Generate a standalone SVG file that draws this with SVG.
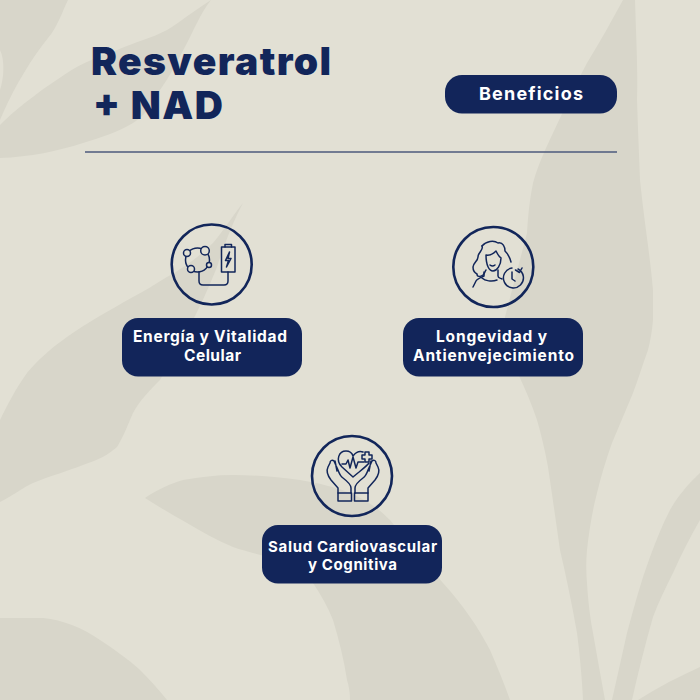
<svg xmlns="http://www.w3.org/2000/svg" width="700" height="700" viewBox="0 0 700 700">
<style>
.leaf{fill:#d8d6ca}
.gap{fill:#e2e0d4}
.ring{fill:none;stroke:#12265a;stroke-width:2.6}
.ic{fill:none;stroke:#12265a;stroke-width:1.5;stroke-linecap:round;stroke-linejoin:round}
.pill{fill:#12255a}
.lab{font-family:"Inter","Liberation Sans",sans-serif;font-weight:700;font-size:15.5px;fill:#fff;text-anchor:middle}
.ttl{font-family:"Inter","Liberation Sans",sans-serif;font-weight:900;font-size:39px;fill:#12265a}
</style>
<rect width="700" height="700" fill="#e2e0d4"/>
<g id="background">
<path class="leaf" d="M0 0H68C62 12 58 26 48 38C32 58 16 84 3 113L0 120Z"/>
<path class="gap" d="M0 50C5 60 4 78 0 90Z"/>
<path class="leaf" d="M0 125L3 122C22 104 44 88 67 73C84 62 100 56 117 50C135 42 152 38 167 30C180 22 192 12 211 0C200 14 194 30 187 43C178 60 170 76 160 90C152 106 144 116 133 123C118 132 100 138 83 143C58 151 30 157 0 158Z"/>
<path class="leaf" d="M243 203C234 214 224 230 213 243C198 258 183 268 167 277C155 284 145 291 133 297C110 310 88 322 67 337C50 349 38 360 27 373C16 388 8 404 0 420V502C12 496 22 488 33 483C50 476 68 471 83 465C98 460 108 455 117 447C124 436 128 424 133 413C140 400 150 390 160 380C180 345 200 310 217 267C224 245 233 222 243 203Z"/>
<path class="leaf" d="M623 0H635C636 35 638 70 637 100C638 130 639 155 640 180C644 220 650 255 653 290V320C652 332 650 342 648 350C642 366 638 380 633 393C626 410 619 426 612 443C606 460 601 476 597 493C592 512 589 532 587 550C586 562 586 572 587 583C588 600 590 618 593 633C597 656 601 678 605 700H583C582 680 580 656 577 633C572 604 566 576 560 550C556 522 552 494 548 467C545 450 541 434 537 420C532 405 526 391 520 378C512 360 505 342 505 317C512 290 520 260 527 233C528 214 530 198 533 183C538 165 545 150 553 133C564 110 575 85 587 63C600 42 612 20 623 0Z"/>
<path class="leaf" d="M700 473C688 484 678 496 670 510C662 525 656 541 650 557C641 581 634 607 627 633C622 655 617 678 612 700H632C638 673 645 645 653 617C659 601 666 587 673 573C681 555 690 537 700 520Z"/>
<path class="leaf" d="M700 667C680 676 658 687 638 700H700Z"/>
<path class="leaf" d="M145 498C158 489 170 484 183 480C200 477 216 475 233 475C256 475 278 477 300 480C318 483 335 487 350 493C365 499 379 509 390 520C410 545 428 565 443 583C453 594 462 605 470 617C478 628 484 639 490 650C497 666 504 683 510 700H350C350 693 349 686 347 680C344 660 339 640 333 620C328 607 321 595 313 583C300 572 285 563 267 557C255 553 244 551 233 547C216 540 201 531 187 523C172 515 158 506 145 498Z"/>
<path class="leaf" d="M0 618H43C63 620 83 628 100 640C115 650 128 659 140 670C150 680 159 690 167 700H0Z"/>
</g>
<g id="header">
<text class="ttl" x="91" y="75" textLength="240" lengthAdjust="spacing">Resveratrol</text>
<text class="ttl" x="93" y="119" textLength="130" lengthAdjust="spacing">+ NAD</text>
<line x1="85" y1="152" x2="617" y2="152" stroke="#4d5a7c" stroke-width="1.6"/>
</g>
<g id="badge">
<rect class="pill" x="445" y="75" width="172" height="38.500" rx="17"/>
<text class="lab" x="531" y="100" style="font-size:18px" textLength="104" lengthAdjust="spacing">Beneficios</text>
</g>
<g id="node-energia">
<circle class="ring" cx="211.700" cy="264.500" r="40"/>
<g class="ic">
<circle cx="197.500" cy="260" r="12"/>
<circle class="gap" cx="187" cy="253" r="3.500"/><circle class="gap" cx="205" cy="250.700" r="4.300"/><circle class="gap" cx="191" cy="269" r="3.500"/><circle class="gap" cx="209" cy="265" r="2.500"/>
<rect x="221.500" y="247" width="13.500" height="25"/><path d="M225 247V244.500H231.500V247"/>
<path d="M229.500 252L225.500 260.500H228.500L226.500 267L231 258.500H228Z"/>
<path d="M199 272V281Q199 285 203 285H224Q228 285 228 281V272"/>
</g>
</g>
<g id="label-energia">
<rect class="pill" x="122" y="318" width="180" height="58.500" rx="16"/>
<text class="lab" x="210" y="342" textLength="154" lengthAdjust="spacing">Energía y Vitalidad</text>
<text class="lab" x="212.500" y="361" textLength="57" lengthAdjust="spacing">Celular</text>
</g>
<g id="node-longevidad">
<circle class="ring" cx="493.300" cy="267" r="40"/>
<g class="ic">
<path d="M482 246C486 241 494 240 498 243C503 242 505 247 505 251C508 254 510 258 511 262"/>
<path d="M482 246C484 250 478 252 478 257C478 261 473 263 473 267C473 271 475 273 477 274C477 277 480 277 483 275C485 273 485 271 486 270"/>
<path d="M486 255C491 256 494 253 496 251C498 255 499 257 501 258C501 265 497 271 493 271C489 271 486 265 486 255Z"/>
<path d="M490 265Q492.500 267 495 265M484 272V276C480 278 477 279 476 281L473 287M498 270V276C498 278 500 278 502 279M482 278C485 281 492 282 497 280"/>
<path d="M518 269A10 10 0 1 1 512 268M512 272V279L515 281M522 268L519.500 272.500L515.500 270"/>
</g>
</g>
<g id="label-longevidad">
<rect class="pill" x="403" y="318" width="180" height="58.500" rx="16"/>
<text class="lab" x="491.500" y="342" textLength="111" lengthAdjust="spacing">Longevidad y</text>
<text class="lab" x="493.500" y="361" textLength="161" lengthAdjust="spacing">Antienvejecimiento</text>
</g>
<g id="node-salud">
<circle class="ring" cx="352" cy="476" r="40"/>
<g class="ic">
<path d="M353 477L342 467C335 460 339 451 346 451C349 451 352 453 353 456C356 452 360 451 363 452M369 463C367 466 360 471 353 477"/>
<path d="M342 464H346L348 460L350 468L353 457L356 468L358 462H364"/>
<path d="M362 455H365V452H369V455H372V459H369V462H365V459H362Z"/>
<path d="M351 493V488C351 484 347 481 343 478C340 476 339 473 338 470L334 461C332 459 330 461 330 463L328 467C326 471 328 476 331 480L338 488V493M335 461L337 471"/>
<path d="M355 493V488C355 484 359 481 363 478C366 476 367 473 368 470L372 461C374 459 376 461 376 463L378 467C380 471 378 476 375 480L368 488V493M371 461L369 471"/>
<rect x="338" y="493" width="13.500" height="8"/><rect x="354.500" y="493" width="13.500" height="8"/>
</g>
</g>
<g id="label-salud">
<rect class="pill" x="262" y="525" width="180" height="58.500" rx="16"/>
<text class="lab" x="352.500" y="551.500" style="font-size:15px" textLength="169" lengthAdjust="spacing">Salud Cardiovascular</text>
<text class="lab" x="352.500" y="570" style="font-size:15px" textLength="89" lengthAdjust="spacing">y Cognitiva</text>
</g>
<g id="connectors"></g>
</svg>
